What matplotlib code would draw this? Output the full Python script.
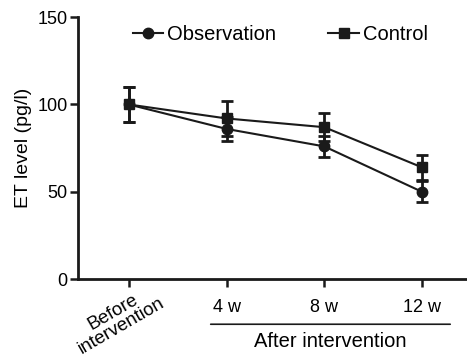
import matplotlib
matplotlib.use('Agg')
import matplotlib.pyplot as plt
from matplotlib.lines import Line2D

plt.rcParams['font.family'] = ['Liberation Sans', 'DejaVu Sans']

# data
groups = ['Before\nintervention', '4 w', '8 w', '12 w']
obs_mean = [100, 86, 76, 50]
obs_err = [10, 7, 6, 6]
ctl_mean = [100, 92, 87, 64]
ctl_err = [10, 10, 8, 7]
yticks = [0, 50, 100, 150]

ink = '#1a1a1a'

fig = plt.figure(figsize=(4.67, 3.57), dpi=100)
ax = fig.add_axes([0.167, 0.218, 0.833, 0.734])

xs = list(range(len(groups)))
ax.errorbar(xs, obs_mean, yerr=obs_err, color=ink, marker='o', ms=7.5,
            lw=1.5, elinewidth=2, capsize=4, capthick=2)
ax.errorbar(xs, ctl_mean, yerr=ctl_err, color=ink, marker='s', ms=7.5,
            lw=1.5, elinewidth=2, capsize=4, capthick=2)

ax.set_xlim(-0.52, 3.46)
ax.set_ylim(0, 150)
ax.set_yticks(yticks)
ax.set_xticks(xs)
ax.set_xticklabels([''] + groups[1:], fontsize=13)
ax.tick_params(axis='both', width=1.8, length=5.5, labelsize=13, color=ink)
ax.tick_params(axis='x', pad=9)
ax.tick_params(axis='y', pad=2)
for s in ['top', 'right']:
    ax.spines[s].set_visible(False)
for s in ['left', 'bottom']:
    ax.spines[s].set_linewidth(2)
    ax.spines[s].set_color(ink)

ax.set_ylabel('ET level (pg/l)', fontsize=14, labelpad=4)

# rotated first label
ax.text(-0.12, -0.152, groups[0], transform=ax.get_xaxis_transform(), rotation=30,
        rotation_mode='anchor', ha='center', va='center', fontsize=13.5,
        linespacing=0.95, multialignment='center')

# bracket for "After intervention"
ax.annotate('', xy=(0.334, -0.172), xytext=(0.964, -0.172), xycoords='axes fraction',
            arrowprops=dict(arrowstyle='-', lw=1.2, color=ink))
ax.text(0.648, -0.2, 'After intervention', transform=ax.transAxes,
        ha='center', va='top', fontsize=14.5)

handles = [Line2D([], [], color=ink, marker='o', ms=7.5, lw=1.5),
           Line2D([], [], color=ink, marker='s', ms=7.5, lw=1.5)]
ax.legend(handles, ['Observation', 'Control'], loc='center left',
          bbox_to_anchor=(0.141, 0.935), ncol=2, frameon=False, fontsize=14.5,
          handlelength=1.5, handletextpad=0.2, columnspacing=2.6,
          borderaxespad=0, borderpad=0)

fig.savefig('out.png', dpi=100)
